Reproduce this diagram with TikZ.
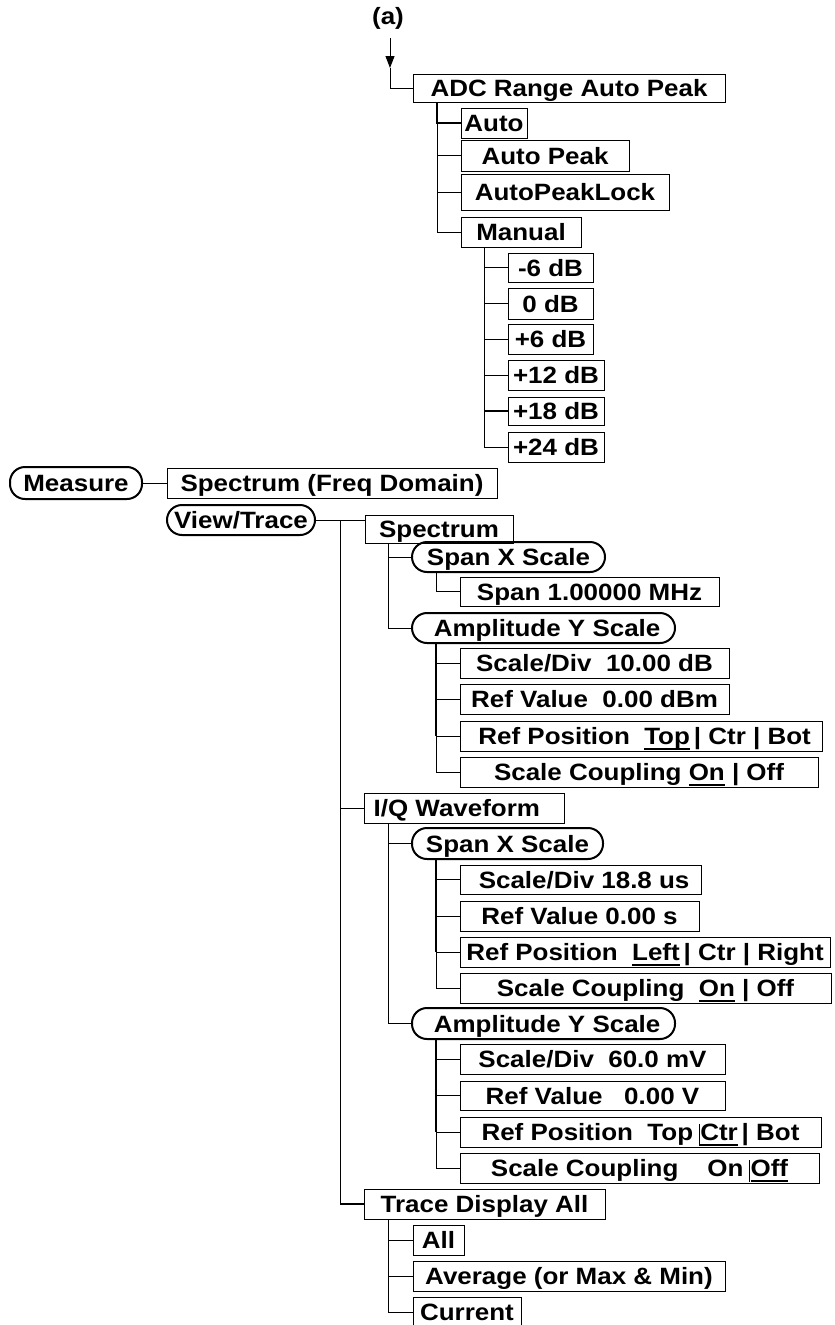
\documentclass[tikz,border=0pt]{standalone}
\usepackage{fontspec}
\setmainfont{Liberation Sans}
\newfontfamily\wfont[FakeStretch=1.1]{Liberation Sans}
\usetikzlibrary{arrows.meta,calc}
\newcommand\thinbar{\rlap{\kern-1.5pt\vrule width 0.8pt height 17pt depth 5pt}}
\newcommand\ulx[1]{\setbox0\hbox{#1}\rlap{\vrule width\wd0 height -3.6pt depth 5.2pt}\box0\relax}
\begin{document}
\begin{tikzpicture}[x=1pt,y=-1pt,
  bx/.style={draw, line width=1pt, inner sep=0pt, text height=17pt, text depth=0pt,
    font=\wfont\bfseries\fontsize{23.6}{28}\selectfont},
  rbx/.style={bx, line width=2pt, rounded corners=15pt},
  ln/.style={line width=1pt},
  tr/.style={line width=1.4pt}]
\useasboundingbox (0,0) rectangle (835,1325);
% top part
\node[inner sep=0pt, font=\wfont\bfseries\fontsize{23.6}{28}\selectfont] (lbla) at (388,18) {(a)};
\node[bx,minimum width=312pt,minimum height=28pt] (adc) at (569,88) {ADC Range Auto Peak};
\coordinate (tip) at (390,68);
\draw[ln,-{Triangle[width=9pt,length=12pt]}] ([yshift=-9pt]lbla.south -| tip) -- (tip);
\draw[ln] (tip) |- (adc.west);
\node[bx,minimum width=66pt,minimum height=30pt] (auto) at (494,123) {Auto};
\node[bx,minimum width=168pt,minimum height=31pt] (apk) at (545,155.5) {Auto Peak};
\node[bx,minimum width=208pt,minimum height=36pt] (apl) at (565,192) {AutoPeakLock};
\node[bx,minimum width=120pt,minimum height=30pt] (man) at (521,232) {Manual};
\draw[tr] ([xshift=24.5pt]adc.south west) |- (auto.west);
\draw[ln] ([xshift=24.5pt]adc.south west) |- (apk.west);
\draw[ln] ([xshift=24.5pt]adc.south west) |- (apl.west);
\draw[ln] ([xshift=24.5pt]adc.south west) |- (man.west);
\node[bx,minimum width=85pt,minimum height=29pt] (m6) at (550.5,267.5) {-6 dB};
\node[bx,minimum width=85pt,minimum height=31pt] (z0) at (550.5,303.5) {0 dB};
\node[bx,minimum width=85pt,minimum height=30pt] (p6) at (550.5,339) {+6 dB};
\node[bx,minimum width=96pt,minimum height=30pt] (p12) at (556,375) {+12 dB};
\node[bx,minimum width=96pt,minimum height=28pt] (p18) at (556,411) {+18 dB};
\node[bx,minimum width=96pt,minimum height=30pt] (p24) at (556,447) {+24 dB};
\draw[tr] ([xshift=24pt]man.south west) |- (p18.west);
\foreach \n in {m6,z0,p6,p12,p18,p24}
  \draw[ln] ([xshift=24pt]man.south west) |- (\n.west);
% lower part
\node[rbx,minimum width=132pt,minimum height=32pt] (meas) at (76,483) {Measure};
\node[bx,minimum width=330pt,minimum height=30pt] (sfd) at (332,483) {Spectrum (Freq Domain)};
\draw[ln] (meas.east) -- (sfd.west);
\node[rbx,minimum width=148pt,minimum height=30pt] (vt) at (241,520) {View/Trace};
\node[bx,minimum width=148pt,minimum height=28pt] (sp) at (439,529) {Spectrum};
\draw[ln] (vt.east) -- (sp.west |- vt.east);
\coordinate (vtj) at ($(vt.east)!0.5!(sp.west |- vt.east)$);
% Spectrum subtree
\node[rbx,minimum width=193pt,minimum height=30pt] (sx1) at (508.5,557) {Span X Scale};
\node[bx,minimum width=259pt,minimum height=29pt] (span) at (589.5,591.5) {Span 1.00000 MHz};
\node[rbx,minimum width=263pt,minimum height=30pt] (ay1) at (543.5,628) {\ Amplitude Y Scale};
\draw[ln] ([xshift=24pt]sp.south west) |- (sx1.west);
\draw[ln] ([xshift=24pt]sp.south west) |- (ay1.west);
\draw[ln] ([xshift=25pt]sx1.south west) |- (span.west);
\node[bx,minimum width=269pt,minimum height=30pt] (sd10) at (594.5,663) {Scale/Div\ \ 10.00 dB};
\node[bx,minimum width=269pt,minimum height=30pt] (rv1) at (594.5,699) {Ref Value\ \ 0.00 dBm};
\node[bx,minimum width=362pt,minimum height=30pt] (rp1) at (641,736) {\ Ref Position\ \ \ulx{Top}\,| Ctr | Bot};
\node[bx,minimum width=358pt,minimum height=30pt] (sc1) at (639,772) {Scale Coupling \ulx{On} | Off};
\foreach \n in {sd10,rv1,rp1,sc1}
  \draw[ln] ([xshift=25pt]ay1.south west) |- (\n.west);
\draw[tr] ([xshift=25pt]ay1.south west) -- ([xshift=25pt]ay1.south west |- rp1.west);
% I/Q subtree
\node[bx,minimum width=200pt,minimum height=30pt] (iq) at (464,808) {I/Q Waveform\ \ \ };
\draw[ln] (vtj |- iq.west) -- (iq.west);
\node[rbx,minimum width=191pt,minimum height=31pt] (sx2) at (507.5,843.5) {Span X Scale};
\node[rbx,minimum width=263pt,minimum height=31pt] (ay2) at (543.5,1023.5) {\ Amplitude Y Scale};
\draw[ln] ([xshift=25pt]iq.south west) |- (sx2.west);
\draw[ln] ([xshift=25pt]iq.south west) |- (ay2.west);
\node[bx,minimum width=241pt,minimum height=29pt] (sd18) at (580.5,879.5) {\ Scale/Div 18.8 us};
\node[bx,minimum width=239pt,minimum height=30pt] (rv2) at (579.5,916) {Ref Value 0.00 s};
\node[bx,minimum width=370pt,minimum height=30pt] (rp2) at (645,952) {Ref Position\ \ \ulx{Left}\,| Ctr | Right};
\node[bx,minimum width=371pt,minimum height=30pt] (sc2) at (645.5,988) {Scale Coupling\ \ \ulx{On} | Off};
\foreach \n in {sd18,rv2,rp2,sc2}
  \draw[ln] ([xshift=25pt]sx2.south west) |- (\n.west);
\draw[tr] ([xshift=25pt]sx2.south west) -- ([xshift=25pt]sx2.south west |- rp2.west);
\node[bx,minimum width=265pt,minimum height=30pt] (sd60) at (592.5,1059) {Scale/Div\ \ 60.0 mV};
\node[bx,minimum width=265pt,minimum height=29pt] (rv3) at (592.5,1095.5) {Ref Value\ \ \ 0.00 V};
\node[bx,minimum width=361pt,minimum height=30pt] (rp3) at (640.5,1132) {Ref Position\ \ Top \thinbar\ulx{Ctr}\,| Bot};
\node[bx,minimum width=359pt,minimum height=30pt] (sc3) at (639.5,1168) {Scale Coupling\ \ \ \ On \thinbar\ulx{Off}};
\foreach \n in {sd60,rv3,rp3,sc3}
  \draw[ln] ([xshift=25pt]ay2.south west) |- (\n.west);
\draw[tr] ([xshift=25pt]ay2.south west) -- ([xshift=25pt]ay2.south west |- rp3.west);
% Trace display
\node[bx,minimum width=241pt,minimum height=30pt] (tda) at (484.5,1204) {Trace Display All};
\draw[tr] (vtj) |- (tda.west);
\node[bx,minimum width=51pt,minimum height=30pt] (all) at (438.5,1240) {All};
\node[bx,minimum width=312pt,minimum height=30pt] (avg) at (569,1276) {Average (or Max \& Min)};
\node[bx,minimum width=108pt,minimum height=30pt] (cur) at (467,1312) {Current};
\foreach \n in {all,avg,cur}
  \draw[ln] ([xshift=25pt]tda.south west) |- (\n.west);
\draw[tr] ([xshift=25pt]tda.south west) -- ([xshift=25pt]tda.south west |- avg.west);
\end{tikzpicture}
\end{document}
